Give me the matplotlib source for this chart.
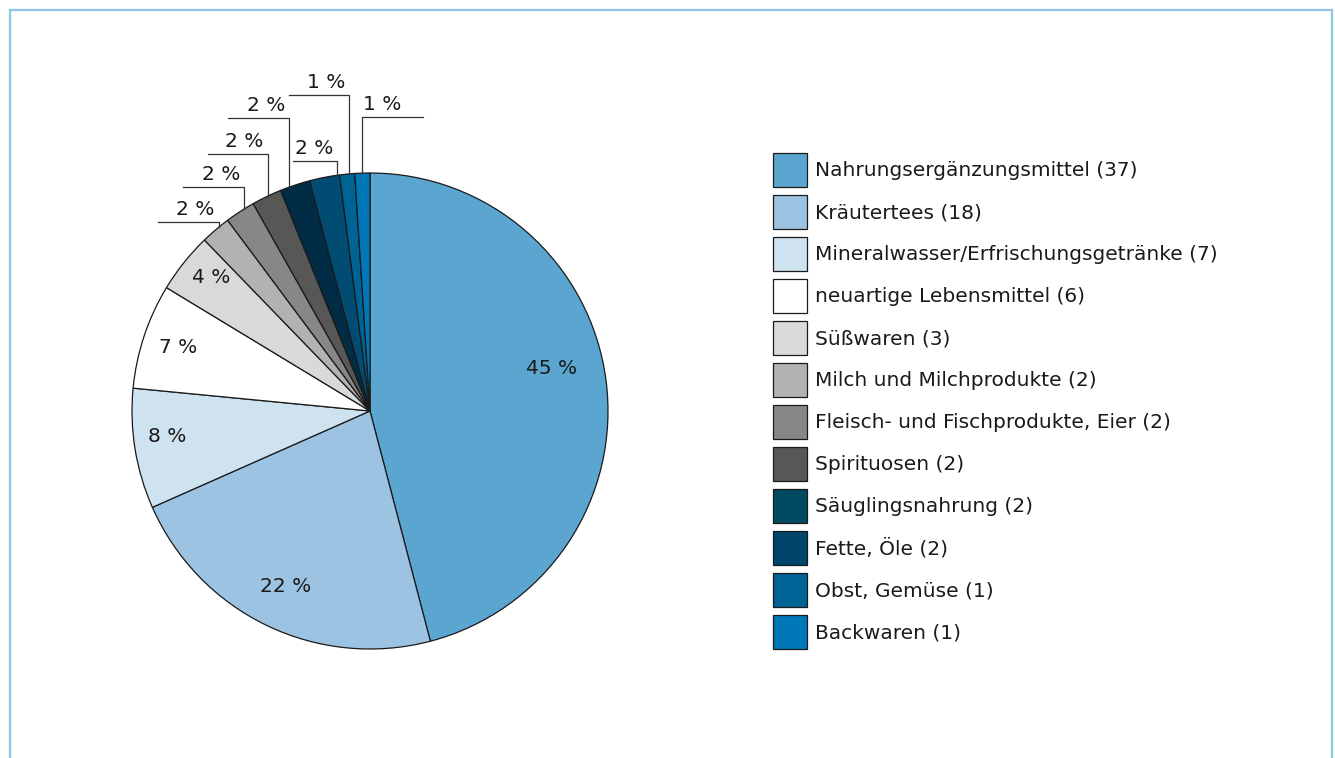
import matplotlib.pyplot as plt
from matplotlib.patches import Patch
import numpy as np

plt.rcParams['font.family'] = ['DejaVu Sans']

# data
categories = ['Nahrungsergänzungsmittel', 'Kräutertees',
              'Mineralwasser/Erfrischungsgetränke', 'neuartige Lebensmittel',
              'Süßwaren', 'Milch und Milchprodukte',
              'Fleisch- und Fischprodukte, Eier', 'Spirituosen',
              'Säuglingsnahrung', 'Fette, Öle', 'Obst, Gemüse', 'Backwaren']
counts = [37, 18, 7, 6, 3, 2, 2, 2, 2, 2, 1, 1]
percent = [45, 22, 8, 7, 4, 2, 2, 2, 2, 2, 1, 1]
colors = ['#5BA5D1', '#9DC3E2', '#CFE2F0', '#FFFFFF', '#D9D9D9', '#B2B2B2',
          '#878787', '#575756', '#002C45', '#004C73', '#006396', '#0078B8']
legend_colors = ['#5BA5D1', '#9DC3E2', '#CFE2F0', '#FFFFFF', '#D9D9D9', '#B2B2B2',
                 '#878787', '#575756', '#004B63', '#00456B', '#006396', '#0078B8']

# layout
W, H = 1335, 758
cx, cy, R = 370, H - 411, 238
text_col = '#1a1a1a'
fs = 14.5
fs_px = fs * 100 / 72

inner_dist = [0.785, 0.82, 0.86, 0.85, 0.87]
inner_shift = [5.7, 0, -2, 0, -1.5]
# leader lines for the small slices: position in wedge, line height, length
lead_t = [0.37, 0.35, 0.46, 0.71, 0.085, 0.38, 0.53]
lead_y = [222, 187, 154, 118, 161, 95, 117]
lead_len = [-61, -61, -60, -61, -44, -60, 61]

fig = plt.figure(figsize=(W / 100, H / 100), dpi=100)
ax = fig.add_axes([0, 0, 1, 1])

wedges, _ = ax.pie(percent, colors=colors, startangle=90, counterclock=False,
                   center=(cx, cy), radius=R,
                   wedgeprops=dict(edgecolor=text_col, linewidth=0.9))
ax.set_xlim(0, W)
ax.set_ylim(0, H)
ax.axis('off')

# labels inside
for i in range(len(inner_dist)):
    w = wedges[i]
    ang = np.radians((w.theta1 + w.theta2) / 2 + inner_shift[i])
    r = R * inner_dist[i]
    ax.text(cx + r * np.cos(ang), cy + r * np.sin(ang), f'{percent[i]} %',
            ha='center', va='center', fontsize=fs, color=text_col)

# labels outside with leader lines
for k, i in enumerate(range(len(inner_dist), len(percent))):
    w = wedges[i]
    ang = np.radians(w.theta1 + lead_t[k] * (w.theta2 - w.theta1))
    x0 = cx + R * np.cos(ang)
    y0 = cy + R * np.sin(ang)
    ly = H - lead_y[k]
    ax.plot([x0, x0, x0 + lead_len[k]], [y0, ly, ly], color='#333333', lw=0.9)
    if lead_len[k] < 0:
        ax.text(x0 - 4, ly + 7, f'{percent[i]} %', ha='right', va='baseline',
                fontsize=fs, color=text_col)
    else:
        ax.text(x0 + 1, ly + 7, f'{percent[i]} %', ha='left', va='baseline',
                fontsize=fs, color=text_col)

# legend, 34 px squares with 8 px gaps
box = 34 / fs_px
handles = [Patch(facecolor=c, edgecolor=text_col, linewidth=0.9) for c in legend_colors]
labels = [f'{c} ({n})' for c, n in zip(categories, counts)]
ax.legend(handles, labels, loc='upper left', bbox_to_anchor=(773 / W, 1 - 153 / H),
          frameon=False, borderpad=0, borderaxespad=0, fontsize=fs,
          handlelength=box, handleheight=(box - 0.245) / 0.65,
          handletextpad=8 / fs_px, labelspacing=8 / fs_px, labelcolor=text_col)

# frame border
ax.plot([10, 10, 1332, 1332], [-5, H - 10, H - 10, -5], color='#8DC6E6',
        lw=1.6, clip_on=False, solid_joinstyle='miter')

fig.savefig('out.png', dpi=100)
